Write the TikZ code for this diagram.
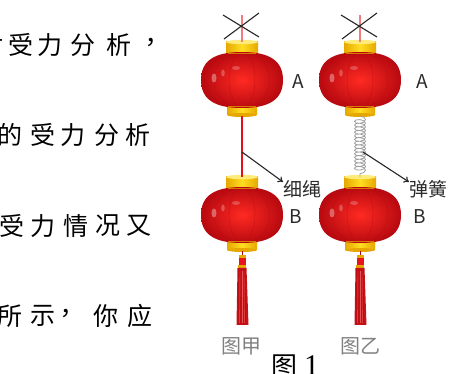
\documentclass[tikz,border=0pt]{standalone}
\usepackage{fontspec}
\setmainfont{Liberation Serif}
\newfontfamily\cjk{Noto Sans CJK SC}
\newfontfamily\cjktc{Noto Sans CJK TC}
\usetikzlibrary{decorations.pathmorphing,arrows.meta}

\definecolor{lanred}{HTML}{E8141C}
\definecolor{landark}{HTML}{B80A10}
\definecolor{lanlight}{HTML}{FF2A22}
\definecolor{capyel}{HTML}{FFDD22}
\definecolor{capdark}{HTML}{E6A800}
\definecolor{ropered}{HTML}{E3101A}
\definecolor{labgray}{HTML}{808080}
\definecolor{labtext}{HTML}{2B2B2B}

\tikzset{
  bodytext/.style={font=\cjk\fontsize{25}{27}\selectfont, inner sep=0pt, text=black},
  punct/.style={font=\cjktc\fontsize{25}{27}\selectfont, inner sep=0pt, text=black},
  tag/.style={font=\cjk\fontsize{19}{22}\selectfont, inner sep=0pt, text=labtext},
  caption/.style={font=\cjk\fontsize{20}{22}\selectfont, inner sep=0pt, text=labgray},
  figno/.style={inner sep=0pt, text=black},
  pointer/.style={draw=black!85, line width=1.1pt, -{To[length=5pt,width=7pt]}},
  cross/.style={draw=black!85, line width=1.1pt},
  hook/.style={draw=ropered!55!white, line width=1.2pt},
  lantern/.pic={
    % top cap
    \fill[left color=capdark, right color=capdark, middle color=capyel] (-16,-38) rectangle (16,-24);
    \fill[capyel!60!white] (0,-38) ellipse[x radius=16, y radius=2.2];
    % bottom cap
    \fill[left color=capdark, right color=capdark, middle color=capyel] (-15,22) rectangle (15,35);
    \fill[capdark] (0,35) ellipse[x radius=15, y radius=2];
    % rounded body with ribs
    \shade[inner color=lanlight, outer color=landark]
      (-41,0) .. controls (-41,-19) and (-28,-28) .. (0,-28)
              .. controls (28,-28) and (41,-19) .. (41,0)
              .. controls (41,19) and (28,28) .. (0,28)
              .. controls (-28,28) and (-41,19) .. cycle;
    \draw[landark, line width=0.5pt, opacity=0.5] (0,0) ellipse[x radius=13, y radius=27.5];
    \draw[landark, line width=0.5pt, opacity=0.5] (0,0) ellipse[x radius=28, y radius=27.5];
    \draw[capdark, line width=0.8pt, opacity=0.7] (-14,-26.5) -- (14,-26.5);
    \draw[capdark, line width=0.8pt, opacity=0.7] (-14,26.5) -- (14,26.5);
    % glints
    \fill[white, opacity=0.35] (-28,-2) ellipse[x radius=2.5, y radius=4.5];
    \fill[white, opacity=0.25] (-19,-7) ellipse[x radius=1.8, y radius=3.5];
    \fill[white, opacity=0.22] (-6,-12) ellipse[x radius=4, y radius=2];
    \coordinate (-top) at (0,-38);
    \coordinate (-bot) at (0,36);
  },
  tassel/.pic={
    \draw[ropered!70!black, line width=0.7pt] (0,36) -- (0,41);
    \fill[capdark] (-3.5,40) rectangle (3.5,43);
    \fill[lanred] (-3.5,43) rectangle (3.5,50);
    \fill[capdark] (-4,50) rectangle (4,53);
    \fill[lanred!85!black] (-4.5,53) -- (4.5,53) -- (6.5,110) -- (-5.5,110) -- cycle;
    \foreach \s in {-3,-1,1,3}
      \draw[landark, line width=0.5pt] (\s,54) -- (1.2*\s,109);
    \foreach \s in {-2,0,2}
      \draw[lanlight!60!white, line width=0.4pt, opacity=0.6] (\s,56) -- (1.2*\s,108);
  }
}

\begin{document}
\begin{tikzpicture}[x=1pt, y=-1pt]
  \useasboundingbox (0,0) rectangle (451,374);

  % paragraph text, one glyph per node
  \foreach \x/\c [count=\i] in {-9/对, 21/受, 50/力, 83/分, 119/析}
    \node[bodytext] (la\i) at (\x,45) {\c};
  \node[punct] (lacomma) at (151,45) {，};
  \foreach \x/\c [count=\i] in {10/的, 43/受, 73/力, 107/分, 138/析}
    \node[bodytext] (lb\i) at (\x,135) {\c};
  \foreach \x/\c [count=\i] in {12/受, 43/力, 76/情, 108/况, 139/又}
    \node[bodytext] (lc\i) at (\x,226) {\c};
  \foreach \x/\c [count=\i] in {10/所, 43/示, 106/你, 140/应}
    \node[bodytext] (ld\i) at (\x,316) {\c};
  \node[punct] (ldcomma) at (66,316) {，};

  % left pair: lanterns joined by a thin cord
  \pic (LA) at (242,80) {lantern};
  \pic (LB) at (242,215) {lantern};
  \pic (LT) at (242,215) {tassel};
  % right pair: lanterns joined by a spring
  \pic (RA) at (360,80) {lantern};
  \pic (RB) at (360,215) {lantern};
  \pic (RT) at (360,215) {tassel};

  % crossed-out hangers
  \coordinate (lhook) at (242,15);
  \coordinate (rhook) at (360,15);
  \draw[hook] (lhook) -- (LA-top);
  \draw[hook] (rhook) -- (RA-top);
  \draw[cross] (223,15) -- (259,37) (259,13) -- (224,39);
  \draw[cross] (341,15) -- (377,37) (377,13) -- (342,39);

  % cord and spring
  \draw[ropered, line width=1.7pt] (LA-bot) -- (LB-top);
  \draw[gray!75, line width=0.8pt, decorate,
        decoration={coil, amplitude=5.5pt, segment length=3.6pt, aspect=0.5}]
        (RA-bot) -- (RB-top);

  % labels
  \node[tag] (tA1) at (298,82) {A};
  \node[tag] (tB1) at (296,217) {B};
  \node[tag] (tA2) at (422,82) {A};
  \node[tag] (tB2) at (420,217) {B};
  \node[tag, anchor=west] (rope) at (283,189) {细绳};
  \node[tag, anchor=west] (spring) at (409,189) {弹簧};

  \coordinate (ropept) at (242,152);
  \coordinate (springpt) at (363,152);
  \draw[pointer] (ropept) -- (rope.west |- 0,182);
  \draw[pointer] (springpt) -- (spring.west |- 0,182);

  % captions
  \node[caption] (capL) at (242,346) {图甲};
  \node[caption] (capR) at (360,346) {图乙};
  \node[figno, anchor=base west] (fig) at (271,376)
    {\cjk\fontsize{26}{28}\selectfont 图\hspace{7pt}\fontspec{Liberation Serif}\fontsize{30}{32}\selectfont 1};
\end{tikzpicture}
\end{document}
